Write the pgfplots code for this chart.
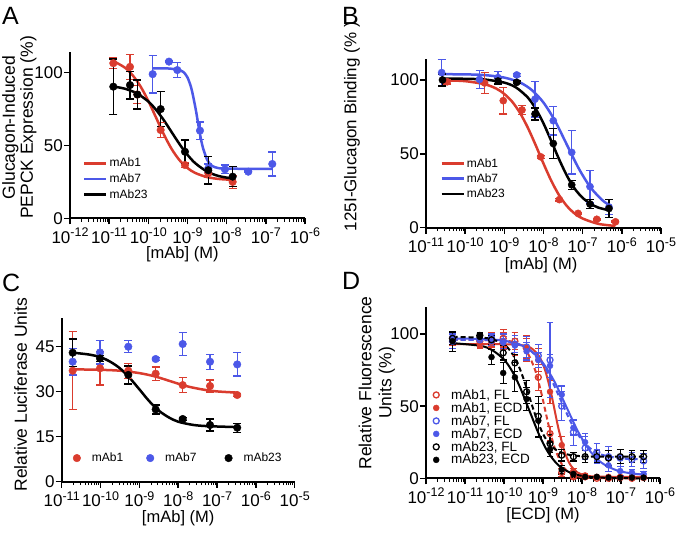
\documentclass[border=0pt]{standalone}
\usepackage{fontspec}
\setmainfont{Liberation Sans}
\usepackage{pgfplots}
\pgfplotsset{compat=1.18}
\definecolor{pred}{RGB}{218,60,46}
\definecolor{pblue}{RGB}{76,88,232}
\newcommand{\tl}[1]{10\raisebox{0.38em}{\fontsize{12.5}{12.5}\selectfont -#1}}
\pgfplotsset{
  minA/.style={minor xtick={2e-12,3e-12,4e-12,5e-12,6e-12,7e-12,8e-12,9e-12,
    2e-11,3e-11,4e-11,5e-11,6e-11,7e-11,8e-11,9e-11,
    2e-10,3e-10,4e-10,5e-10,6e-10,7e-10,8e-10,9e-10,
    2e-9,3e-9,4e-9,5e-9,6e-9,7e-9,8e-9,9e-9,
    2e-8,3e-8,4e-8,5e-8,6e-8,7e-8,8e-8,9e-8,
    2e-7,3e-7,4e-7,5e-7,6e-7,7e-7,8e-7,9e-7}},
  minB/.style={minor xtick={2e-11,3e-11,4e-11,5e-11,6e-11,7e-11,8e-11,9e-11,
    2e-10,3e-10,4e-10,5e-10,6e-10,7e-10,8e-10,9e-10,
    2e-9,3e-9,4e-9,5e-9,6e-9,7e-9,8e-9,9e-9,
    2e-8,3e-8,4e-8,5e-8,6e-8,7e-8,8e-8,9e-8,
    2e-7,3e-7,4e-7,5e-7,6e-7,7e-7,8e-7,9e-7,
    2e-6,3e-6,4e-6,5e-6,6e-6,7e-6,8e-6,9e-6}},
  prismax/.style={
    scale only axis, axis lines=left,
    axis line style={-, line width=1.8pt},
    tick align=outside, major tick length=6pt, minor tick length=3.5pt,
    major tick style={line width=1.5pt, black},
    minor tick style={line width=1pt, black},
    /pgf/number format/assume math mode=true,
    tick label style={font=\fontsize{17}{18}\selectfont},
    label style={font=\fontsize{17.5}{18}\selectfont},
    yticklabel style={inner sep=1pt},
    xticklabel style={inner sep=3.5pt},
    xlabel style={inner sep=0pt, font=\fontsize{16.5}{18}\selectfont},
    clip=false,
    legend cell align=left,
    legend style={draw=none, fill=none, inner sep=0pt, font=\fontsize{12}{13}\selectfont},
  },
  ebar/.style={error bars/y dir=both, error bars/y explicit,
    error bars/error bar style={line width=1.3pt, solid},
    error bars/error mark options={rotate=90, mark size=4pt, line width=1.3pt, solid}},
  ebarD/.style={error bars/y dir=both, error bars/y explicit,
    error bars/error bar style={line width=1.1pt, solid},
    error bars/error mark options={rotate=90, mark size=3.3pt, line width=1.1pt, solid}},
  linelegend/.style={legend image code/.code={\draw[##1, line width=2.5pt] (0pt,0pt) -- (22pt,0pt);}},
  marklegend/.style={legend image code/.code={\draw[##1] plot coordinates {(4pt,0pt)};}},
}
\begin{document}
\begin{tikzpicture}
\path[use as bounding box] (0pt,0pt) rectangle (677pt,-534pt);
% ---------------- A ----------------
\begin{semilogxaxis}[prismax, minA, at={(70pt,-218.3pt)}, anchor=south west,
  width=235pt, height=166pt, xmin=1e-12, xmax=1e-6, ymin=0, ymax=114,
  xtick={1e-12,1e-11,1e-10,1e-9,1e-8,1e-7,1e-6},
  xticklabels={\tl{12},\tl{11},\tl{10},\tl{9},\tl{8},\tl{7},\tl{6}},
  ytick={0,50,100},
  xlabel={[mAb] (M)}, xlabel style={at={(axis description cs:0.478,-0.218)}, anchor=center},
  ylabel={Glucagon-Induced\\PEPCK Expression (\%)},
  ylabel style={align=center, at={(axis description cs:-0.215,0.547)}, anchor=center},
  linelegend,
  legend style={at={(axis description cs:0.055,0.375)}, anchor=north west, row sep=1.5pt},
]
\addplot[pred, line width=2.5pt, smooth] table[x expr=10^(\thisrow{lx}), y=y, row sep=\\] {
lx y\\ -10.894 108.0\\ -10.6 103.5\\ -10.4 98.2\\ -10.2 90.6\\ -10.0 80.6\\ -9.8 69.0\\ -9.6 57.4\\ -9.4 47.4\\ -9.2 39.8\\ -9.0 34.5\\ -8.8 31.1\\ -8.5 28.3\\ -8.2 27.0\\ -7.847 26.4\\
};
\addlegendentry{mAb1}
\addplot[pblue, line width=2.5pt, smooth] table[x expr=10^(\thisrow{lx}), y=y, row sep=\\] {
lx y\\ -9.889 103\\ -9.5 102.9\\ -9.2 101.9\\ -9.1 100.4\\ -9.0 96.7\\ -8.9 89.1\\ -8.8 76.3\\ -8.75 68.5\\ -8.7 60.7\\ -8.65 53.6\\ -8.6 47.9\\ -8.5 40.3\\ -8.4 36.6\\ -8.3 35.1\\ -8.2 34.4\\ -8.0 34.1\\ -7.5 34\\ -6.835 34\\
};
\addlegendentry{mAb7}
\addplot[black, line width=2.5pt, smooth] table[x expr=10^(\thisrow{lx}), y=y, row sep=\\] {
lx y\\ -10.894 90.5\\ -10.6 89.0\\ -10.3 85.9\\ -10.0 80.2\\ -9.8 74.4\\ -9.6 67.2\\ -9.4 59.0\\ -9.2 50.8\\ -9.0 43.6\\ -8.8 37.8\\ -8.5 32.1\\ -8.2 29.0\\ -7.847 27.3\\
};
\addlegendentry{mAb23}
\addplot[pred, only marks, mark=*, mark size=3.8pt, ebar, forget plot] table[x expr=10^(\thisrow{lx}), y=y, y error=e, row sep=\\] {
lx y e\\ -10.894 106.5 3.5\\ -10.468 104 8.7\\ -10.28 85 6\\ -9.685 60.6 5\\ -9.064 36.6 1.5\\ -8.469 31 3\\ -7.847 25 4.5\\
};
\addplot[pblue, only marks, mark=*, mark size=3.8pt, ebar, forget plot] table[x expr=10^(\thisrow{lx}), y=y, y error=e, row sep=\\] {
lx y e\\ -9.889 99 13\\ -9.473 107.6 0.5\\ -9.26 101.8 5\\ -8.681 60.2 6\\ -8.469 34.3 3\\ -8.043 33.6 3\\ -7.448 32 0.5\\ -6.835 37.3 8.2\\
};
\addplot[black, only marks, mark=*, mark size=3.8pt, ebar, forget plot] table[x expr=10^(\thisrow{lx}), y=y, y error=e, row sep=\\] {
lx y e\\ -10.894 90.4 19\\ -10.468 91.5 9.5\\ -10.28 85 10\\ -9.685 75 12\\ -9.064 45.7 8\\ -8.469 33 9.5\\ -7.847 28.6 7\\
};
\end{semilogxaxis}
% ---------------- B ----------------
\begin{semilogxaxis}[prismax, minB, at={(426pt,-227.7pt)}, anchor=south west,
  width=235pt, height=168.4pt, xmin=1e-11, xmax=1e-5, ymin=0, ymax=114,
  xtick={1e-11,1e-10,1e-9,1e-8,1e-7,1e-6,1e-5},
  xticklabels={\tl{11},\tl{10},\tl{9},\tl{8},\tl{7},\tl{6},\tl{5}},
  ytick={0,50,100},
  xlabel={[mAb] (M)}, xlabel style={at={(axis description cs:0.49,-0.222)}, anchor=center},
  ylabel={125I-Glucagon Binding (\% )},
  ylabel style={font=\fontsize{17}{18}\selectfont, at={(axis description cs:-0.315,0.6)}, anchor=center},
  linelegend,
  legend style={at={(axis description cs:0.06,0.425)}, anchor=north west, row sep=1pt},
]
\addplot[pred, line width=2.5pt, smooth] table[x expr=10^(\thisrow{lx}), y=y, row sep=\\] {
lx y\\ -10.459 99.7\\ -10.0 99.2\\ -9.5 97.1\\ -9.2 94.1\\ -9.0 90.5\\ -8.8 85.3\\ -8.6 77.7\\ -8.4 67.7\\ -8.2 55.9\\ -8.0 43.4\\ -7.8 31.7\\ -7.6 21.9\\ -7.4 14.6\\ -7.2 9.5\\ -7.0 6.2\\ -6.6 2.6\\ -6.162 1.2\\
};
\addlegendentry{mAb1}
\addplot[pblue, line width=2.5pt, smooth] table[x expr=10^(\thisrow{lx}), y=y, row sep=\\] {
lx y\\ -10.6 103.9\\ -10.0 103.8\\ -9.5 103.3\\ -9.0 101.6\\ -8.6 98.3\\ -8.3 93.2\\ -8.0 84.7\\ -7.7 72\\ -7.4 56\\ -7.1 40.1\\ -6.8 27.3\\ -6.5 18.7\\ -6.328 15.5\\
};
\addlegendentry{mAb7}
\addplot[black, line width=2.5pt, smooth] table[x expr=10^(\thisrow{lx}), y=y, row sep=\\] {
lx y\\ -10.579 101\\ -10.0 100.8\\ -9.5 100.3\\ -9.0 98.2\\ -8.7 94.9\\ -8.4 88.1\\ -8.2 80.6\\ -8.0 70.6\\ -7.8 58.6\\ -7.6 46.2\\ -7.4 35.1\\ -7.2 26.3\\ -7.0 20.2\\ -6.8 16.2\\ -6.6 13.6\\ -6.328 11.8\\
};
\addlegendentry{mAb23}
\addplot[pred, only marks, mark=*, mark size=3.6pt, ebar, forget plot] table[x expr=10^(\thisrow{lx}), y=y, y error=e, row sep=\\] {
lx y e\\ -10.459 98.8 1.5\\ -9.504 98 7\\ -9.027 86 9\\ -8.549 79.7 3\\ -8.072 48 1\\ -7.594 19 1\\ -7.117 9.7 0.5\\ -6.639 5.7 0.5\\ -6.162 4 0.5\\
};
\addplot[pblue, only marks, mark=*, mark size=3.6pt, ebar, forget plot] table[x expr=10^(\thisrow{lx}), y=y, y error=e, row sep=\\] {
lx y e\\ -10.6 105 9\\ -9.634 100.4 6\\ -9.162 101.6 4\\ -8.684 103.4 1\\ -8.217 87 12\\ -7.75 72.4 9.6\\ -7.28 51 14.7\\ -6.813 27.8 11\\ -6.328 14 5\\
};
\addplot[black, only marks, mark=*, mark size=3.6pt, ebar, forget plot] table[x expr=10^(\thisrow{lx}), y=y, y error=e, row sep=\\] {
lx y e\\ -10.579 100 4\\ -9.162 99.3 2\\ -8.684 98.4 1\\ -8.217 77 4\\ -7.75 57 10\\ -7.28 29 3\\ -6.813 16 3\\ -6.328 13 6\\
};
\end{semilogxaxis}
% ---------------- C ----------------
\begin{semilogxaxis}[prismax, minB, at={(61.7pt,-481.7pt)}, anchor=south west,
  width=233pt, height=164pt, xmin=1e-11, xmax=1e-5, ymin=0, ymax=54.67,
  xtick={1e-11,1e-10,1e-9,1e-8,1e-7,1e-6,1e-5},
  xticklabels={\tl{11},\tl{10},\tl{9},\tl{8},\tl{7},\tl{6},\tl{5}},
  ytick={0,15,30,45},
  xlabel={[mAb] (M)}, xlabel style={at={(axis description cs:0.5,-0.22)}, anchor=center},
  ylabel={Relative Luciferase Units},
  ylabel style={at={(axis description cs:-0.176,0.53)}, anchor=center},
  marklegend, legend columns=3,
  legend style={at={(axis description cs:0.048,0.18)}, anchor=north west,
    nodes={inner sep=0.6pt},
    /tikz/column 1/.style={column sep=10.6pt},
    /tikz/column 2/.style={column sep=22.6pt},
    /tikz/column 3/.style={column sep=10.6pt},
    /tikz/column 4/.style={column sep=27.6pt},
    /tikz/column 5/.style={column sep=10.6pt}},
]
\addplot[pred, line width=2.5pt, smooth, forget plot] table[x expr=10^(\thisrow{lx}), y=y, row sep=\\] {
lx y\\ -10.717 37.46\\ -10.0 37.3\\ -9.5 37.0\\ -9.0 36.2\\ -8.6 35.1\\ -8.2 33.5\\ -7.8 31.9\\ -7.4 30.8\\ -7.0 30.1\\ -6.48 29.7\\
};
\addplot[black, line width=2.5pt, smooth, forget plot] table[x expr=10^(\thisrow{lx}), y=y, row sep=\\] {
lx y\\ -10.717 43.0\\ -10.3 42.4\\ -10.0 41.5\\ -9.75 40.0\\ -9.5 37.8\\ -9.25 34.6\\ -9.0 30.8\\ -8.75 26.9\\ -8.5 23.7\\ -8.25 21.5\\ -8.0 20.0\\ -7.6 18.9\\ -7.2 18.5\\ -6.48 18.2\\
};
\addplot[pred, only marks, mark=*, mark size=3.8pt, ebar] table[x expr=10^(\thisrow{lx}), y=y, y error=e, row sep=\\] {
lx y e\\ -10.717 37 13\\ -10.014 37.8 5.6\\ -9.285 37 2.5\\ -8.58 36 2.2\\ -7.884 32.2 2.5\\ -7.18 31.9 2\\ -6.48 28.9 0.5\\
};
\addlegendentry{mAb1}
\addplot[pblue, only marks, mark=*, mark size=3.8pt, ebar] table[x expr=10^(\thisrow{lx}), y=y, y error=e, row sep=\\] {
lx y e\\ -10.717 40 4.4\\ -10.014 43.1 3.9\\ -9.285 45 2\\ -8.58 40.9 0.5\\ -7.884 45.9 3.9\\ -7.18 40 2.5\\ -6.48 39.1 3.9\\
};
\addlegendentry{mAb7}
\addplot[black, only marks, mark=*, mark size=3.8pt, ebar] table[x expr=10^(\thisrow{lx}), y=y, y error=e, row sep=\\] {
lx y e\\ -10.717 43 4.6\\ -10.014 41.1 1\\ -9.285 35.6 3\\ -8.58 24.1 1.5\\ -7.884 20.9 0.5\\ -7.18 18.9 2\\ -6.48 18 1.5\\
};
\addlegendentry{mAb23}
\end{semilogxaxis}
% ---------------- D ----------------
\begin{semilogxaxis}[prismax, minA, at={(426pt,-478.3pt)}, anchor=south west,
  width=234pt, height=171.7pt, xmin=1e-12, xmax=1e-6, ymin=0, ymax=119,
  xtick={1e-12,1e-11,1e-10,1e-9,1e-8,1e-7,1e-6},
  xticklabels={\tl{12},\tl{11},\tl{10},\tl{9},\tl{8},\tl{7},\tl{6}},
  ytick={0,50,100},
  xlabel={[ECD] (M)}, xlabel style={at={(axis description cs:0.5,-0.217)}, anchor=center},
  ylabel={Relative Fluorescence\\Units (\%)},
  ylabel style={align=center, font=\fontsize{17.5}{20}\selectfont, at={(axis description cs:-0.21,0.555)}, anchor=center},
  marklegend,
  legend style={at={(axis description cs:0.03,0.523)}, anchor=north west, row sep=0.5pt,
    font=\fontsize{13.5}{13.5}\selectfont, nodes={inner sep=0.6pt},
    /tikz/column 1/.style={column sep=11.4pt}},
]
\addplot[pred, line width=2pt, smooth, dash pattern=on 5pt off 3pt, forget plot] table[x expr=10^(\thisrow{lx}), y=y, row sep=\\] {
lx y\\ -11.32 96\\ -10.0 95.5\\ -9.6 92.6\\ -9.4 87.1\\ -9.2 74.9\\ -9.05 59.9\\ -8.95 48\\ -8.85 36.1\\ -8.7 21.1\\ -8.5 8.9\\ -8.3 3.4\\ -8.0 0.8\\ -7.5 0.1\\ -6.42 0\\
};
\addplot[pred, line width=2pt, smooth, forget plot] table[x expr=10^(\thisrow{lx}), y=y, row sep=\\] {
lx y\\ -11.32 93\\ -10.0 92.9\\ -9.5 92.1\\ -9.3 90.2\\ -9.1 84.6\\ -8.95 75.3\\ -8.8 59.9\\ -8.7 47\\ -8.6 34.1\\ -8.45 18.7\\ -8.3 9.4\\ -8.1 3.8\\ -7.8 1.5\\ -7.4 1.1\\ -6.42 1\\
};
\addplot[pblue, line width=2pt, smooth, dash pattern=on 5pt off 3pt, forget plot] table[x expr=10^(\thisrow{lx}), y=y, row sep=\\] {
lx y\\ -11.32 96\\ -10.5 95.8\\ -10.0 94.9\\ -9.6 92.6\\ -9.3 88.0\\ -9.0 78.9\\ -8.8 69.3\\ -8.55 54.5\\ -8.3 39.7\\ -8.1 30.1\\ -7.8 21\\ -7.5 16.4\\ -7.0 13.8\\ -6.42 13.1\\
};
\addplot[pblue, line width=2pt, smooth, forget plot] table[x expr=10^(\thisrow{lx}), y=y, row sep=\\] {
lx y\\ -11.32 96.9\\ -10.5 96.5\\ -10.0 95.4\\ -9.6 92.7\\ -9.3 88.2\\ -9.0 79.9\\ -8.7 66.7\\ -8.4 49.5\\ -8.1 32.3\\ -7.8 19.1\\ -7.5 10.8\\ -7.1 5.4\\ -6.7 3.3\\ -6.42 2.6\\
};
\addplot[black, line width=2pt, smooth, dash pattern=on 5pt off 3pt, forget plot] table[x expr=10^(\thisrow{lx}), y=y, row sep=\\] {
lx y\\ -11.32 98\\ -10.6 97.5\\ -10.3 96.4\\ -10.0 92.7\\ -9.8 86.9\\ -9.6 76.3\\ -9.45 65\\ -9.35 56.5\\ -9.2 44\\ -9.0 30.8\\ -8.8 22.7\\ -8.5 17.4\\ -8.0 15.3\\ -7.0 15\\ -6.42 15\\
};
\addplot[black, line width=2pt, smooth, forget plot] table[x expr=10^(\thisrow{lx}), y=y, row sep=\\] {
lx y\\ -11.32 93.7\\ -10.6 91.8\\ -10.3 88.8\\ -10.0 82.3\\ -9.8 74.6\\ -9.6 63.8\\ -9.35 47\\ -9.1 30.2\\ -8.9 19.4\\ -8.7 11.8\\ -8.5 6.8\\ -8.2 2.9\\ -7.8 0.9\\ -7.2 0.2\\ -6.42 0\\
};
\addplot[pred, only marks, mark=o, mark size=3pt, mark options={line width=1.3pt}, ebarD] table[x expr=10^(\thisrow{lx}), y=y, y error=e, row sep=\\] {
lx y e\\ -11.32 97 3\\ -10.62 95 4\\ -10.32 96 5\\ -10.02 97 6\\ -9.72 95 6\\ -9.42 90 9\\ -9.12 70 9\\ -8.82 31 5\\ -8.52 4 3\\ -8.22 1 1\\ -7.92 1 0.5\\ -7.62 0 0.5\\ -7.32 0 0.5\\ -7.02 0.5 0.5\\ -6.72 0 0.5\\ -6.42 0.5 0.5\\
};
\addlegendentry{mAb1, FL}
\addplot[pred, only marks, mark=*, mark size=3pt, ebarD] table[x expr=10^(\thisrow{lx}), y=y, y error=e, row sep=\\] {
lx y e\\ -11.32 96 4\\ -10.62 93 3\\ -10.32 94 5\\ -10.02 95 6\\ -9.72 93 8\\ -9.42 90 7\\ -9.12 82 8\\ -8.82 60 8\\ -8.52 23 6\\ -8.22 5 2\\ -7.92 2 1\\ -7.62 1 0.5\\ -7.32 1 0.5\\ -7.02 1 0.5\\ -6.72 1 0.5\\ -6.42 1 0.5\\
};
\addlegendentry{mAb1, ECD}
\addplot[pblue, only marks, mark=o, mark size=3pt, mark options={line width=1.3pt}, ebarD] table[x expr=10^(\thisrow{lx}), y=y, y error=e, row sep=\\] {
lx y e\\ -11.32 95 5\\ -10.62 96 4\\ -10.32 97 3\\ -10.02 95 5\\ -9.72 93 6\\ -9.42 91 7\\ -9.12 85 8\\ -8.82 82 26\\ -8.52 50 10\\ -8.22 32 9\\ -7.92 21 8\\ -7.62 18 6\\ -7.32 15 7\\ -7.02 14 6\\ -6.72 13 5\\ -6.42 12 5\\
};
\addlegendentry{mAb7, FL}
\addplot[pblue, only marks, mark=*, mark size=3pt, ebarD] table[x expr=10^(\thisrow{lx}), y=y, y error=e, row sep=\\] {
lx y e\\ -11.32 98 3\\ -10.62 97 2\\ -10.32 95 3\\ -10.02 94 4\\ -9.72 92 5\\ -9.42 88 6\\ -9.12 82 5\\ -8.82 78 8\\ -8.52 58 6\\ -8.22 35 5\\ -7.92 25 6\\ -7.62 15 5\\ -7.32 9 4\\ -7.02 5 3\\ -6.72 4 2\\ -6.42 3 2\\
};
\addlegendentry{mAb7, ECD}
\addplot[black, only marks, mark=o, mark size=3pt, mark options={line width=1.3pt}, ebarD] table[x expr=10^(\thisrow{lx}), y=y, y error=e, row sep=\\] {
lx y e\\ -11.32 97 4\\ -10.62 99 2\\ -10.32 96 3\\ -10.02 87 5\\ -9.72 80 6\\ -9.42 60 8\\ -9.12 43 14\\ -8.82 24 6\\ -8.52 16 4\\ -8.22 15 3\\ -7.92 15 4\\ -7.62 15 4\\ -7.32 14 5\\ -7.02 15 5\\ -6.72 15 4\\ -6.42 15 4\\
};
\addlegendentry{mAb23, FL}
\addplot[black, only marks, mark=*, mark size=3pt, ebarD] table[x expr=10^(\thisrow{lx}), y=y, y error=e, row sep=\\] {
lx y e\\ -11.32 95 7\\ -10.62 98 2\\ -10.32 84 5\\ -10.02 73 7\\ -9.72 70 10\\ -9.42 55 8\\ -9.12 40 12\\ -8.82 20 5\\ -8.52 6 3\\ -8.22 3 2\\ -7.92 1 1\\ -7.62 1 0.5\\ -7.32 0.5 0.5\\ -7.02 0.5 0.5\\ -6.72 0.5 0.5\\ -6.42 0.5 0.5\\
};
\addlegendentry{mAb23, ECD}
\end{semilogxaxis}
% panel letters
\node[font=\fontsize{25}{25}\selectfont, anchor=base west, inner sep=0pt] at (2pt,-25pt) {A};
\node[font=\fontsize{25}{25}\selectfont, anchor=base west, inner sep=0pt] at (342pt,-25pt) {B};
\node[font=\fontsize{25}{25}\selectfont, anchor=base west, inner sep=0pt] at (2pt,-292pt) {C};
\node[font=\fontsize{25}{25}\selectfont, anchor=base west, inner sep=0pt] at (342pt,-290pt) {D};
\end{tikzpicture}
\end{document}
